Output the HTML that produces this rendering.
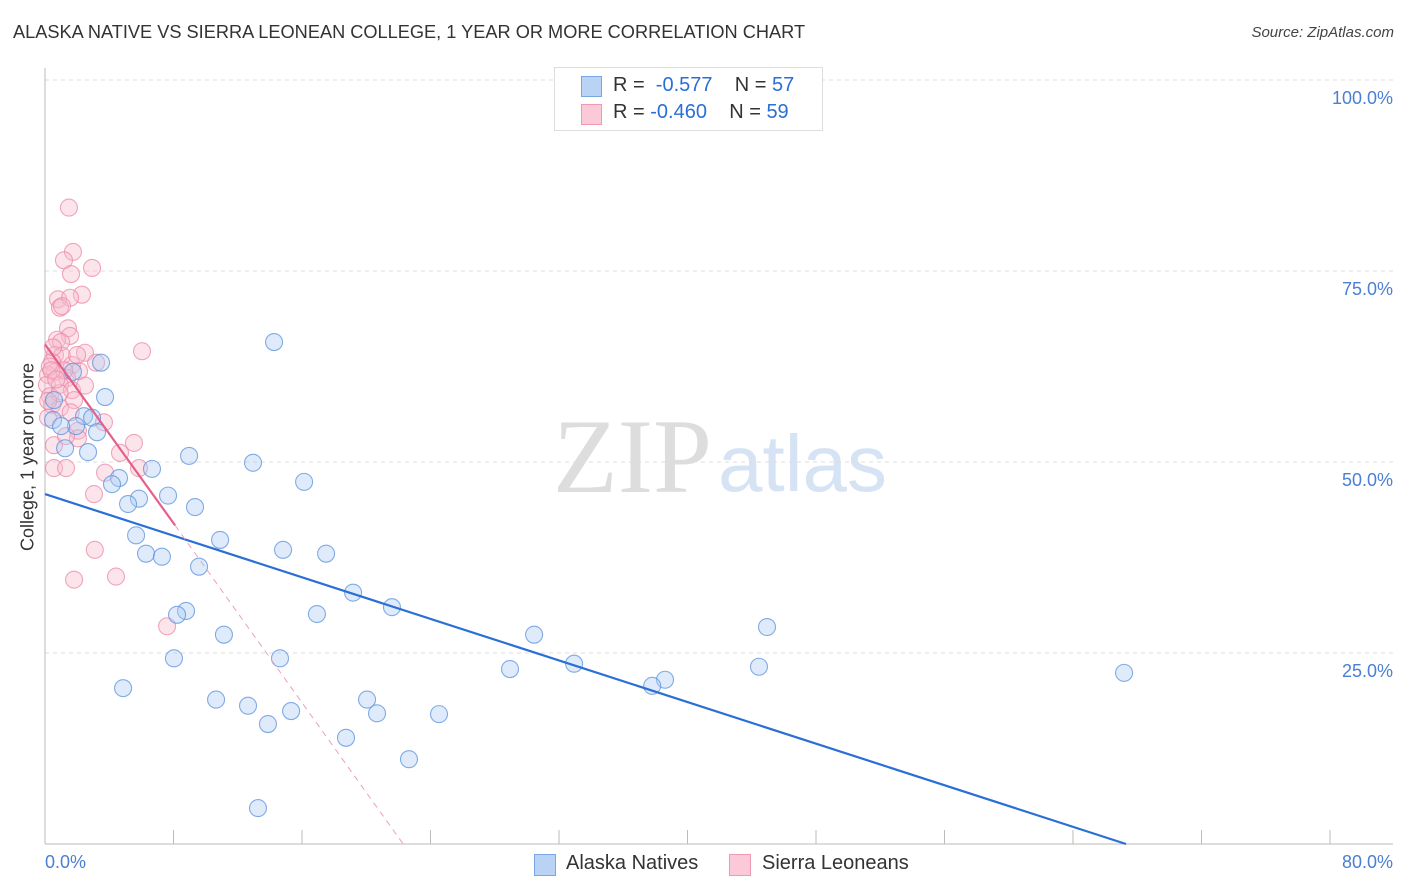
<!DOCTYPE html>
<html><head><meta charset="utf-8"><style>
body{margin:0;background:#fff;font-family:"Liberation Sans",sans-serif}
#wrap{position:relative;width:1406px;height:892px;overflow:hidden}
.t{position:absolute;white-space:nowrap}
</style></head><body>
<div id="wrap">
<div class="t" style="left:13px;top:22px;font-size:18.2px;color:#333">ALASKA NATIVE VS SIERRA LEONEAN COLLEGE, 1 YEAR OR MORE CORRELATION CHART</div>
<div class="t" style="right:12px;top:24px;font-size:15px;color:#444;font-style:italic">Source: ZipAtlas.com</div>
<svg id="svg" width="1406" height="892" style="position:absolute;left:0;top:0"></svg>
</div>
<script>
const xTicks=[0,8,16,24,32,40,48,56,64,72,80];
const yTicks=[25,50,75,100];
const yTickLabels=["25.0%","50.0%","75.0%","100.0%"];
const blueX=[14.26,3.49,1.74,3.74,0.56,0.5,2.43,2.93,1.93,1.0,3.24,1.25,2.68,8.97,12.95,6.66,4.61,4.17,16.13,5.85,5.17,7.66,9.34,5.67,10.9,14.82,17.5,6.29,7.28,9.59,19.18,21.6,8.78,8.22,16.93,11.14,30.45,44.95,8.03,14.63,28.95,32.94,44.45,67.18,38.6,37.8,4.86,10.65,12.64,20.05,15.32,20.67,24.53,13.88,18.74,22.66,13.26];
const blueY=[65.7,63.0,61.8,58.5,58.1,55.5,56.0,55.8,54.7,54.7,53.9,51.8,51.3,50.8,49.9,49.1,47.9,47.1,47.4,45.2,44.5,45.6,44.1,40.4,39.8,38.5,38.0,38.0,37.6,36.3,32.9,31.0,30.5,30.0,30.1,27.4,27.4,28.4,24.3,24.3,22.9,23.6,23.2,22.4,21.5,20.7,20.4,18.9,18.1,18.9,17.4,17.1,17.0,15.7,13.9,11.1,4.7];
const pinkX=[1.49,1.74,1.18,2.93,1.62,2.3,0.81,1.56,0.93,1.06,1.43,1.56,0.75,1.0,6.04,2.49,0.62,1.06,3.18,0.44,1.68,2.12,0.62,0.19,1.37,0.12,0.93,1.68,0.31,1.81,0.44,0.93,3.67,2.05,2.05,5.54,0.56,4.67,0.56,1.31,5.85,3.74,3.05,3.1,4.42,1.81,7.6,0.19,2.49,1.31,0.3,1.2,0.5,2.0,0.9,0.2,1.6,0.4,0.7];
const pinkY=[83.3,77.5,76.4,75.4,74.6,71.9,71.3,71.5,70.2,70.4,67.5,66.5,66.0,65.7,64.5,64.3,64.0,63.9,63.0,63.1,62.7,61.9,61.8,61.4,61.0,60.1,60.1,59.4,58.6,58.1,57.5,57.1,55.2,54.1,53.1,52.5,52.2,51.2,49.2,49.2,49.2,48.6,45.8,38.5,35.0,34.6,28.5,55.8,60.0,53.4,62.5,62.0,65.0,64.0,59.0,58.0,56.5,62.0,60.8];
const blueTrend=[[0,45.8],[67.3,0]];
const pinkSolid=[[0,65.4],[8.1,41.7]];
const pinkDash=[[8.1,41.7],[22.3,0]];
const X=v=>45+v/80*1285, Y=v=>844-v/100*764;
const svg=document.getElementById('svg');const NS='http://www.w3.org/2000/svg';
function mk(t,a,p){const e=document.createElementNS(NS,t);for(const k in a)e.setAttribute(k,a[k]);(p||svg).appendChild(e);return e;}
let w=mk('text',{x:553,y:492,'font-size':106,'font-family':'Liberation Serif',fill:'#ddd'});w.textContent='ZIP';


w=mk('text',{x:718,y:491,'font-size':80,'font-family':'Liberation Sans',fill:'#d5e3f5'});w.textContent='atlas';


yTicks.forEach((v,i)=>{let l=mk('line',{x1:45,x2:1393,y1:Y(v),y2:Y(v),stroke:'#ddd','stroke-dasharray':'4,4'});


let t=mk('text',{x:1393,y:Y(v)+24,'text-anchor':'end','font-size':18,fill:'#4a7fd4'});t.textContent=yTickLabels[i];

});
let ax=mk('line',{x1:45,x2:45,y1:68,y2:844,stroke:'#bbb'});


ax=mk('line',{x1:45,x2:1393,y1:844,y2:844,stroke:'#bbb'});


xTicks.forEach(v=>{let l=mk('line',{x1:X(v),x2:X(v),y1:830,y2:844,stroke:'#bbb'});

});
function dots(xs,ys,fill,stroke,name){xs.forEach((x,i)=>{let c=mk('circle',{cx:X(x),cy:Y(ys[i]),r:8.5,fill:fill,stroke:stroke,'stroke-width':1.1,'fill-opacity':0.4,'stroke-opacity':0.75});

});}
dots(pinkX,pinkY,'#f7bccd','#eb8aa8','sierra-leonean-point');
dots(blueX,blueY,'#b0cdf2','#5a92dc','alaska-native-point');
let l=mk('line',{x1:X(blueTrend[0][0]),y1:Y(blueTrend[0][1]),x2:X(blueTrend[1][0]),y2:Y(blueTrend[1][1]),stroke:'#2a6fd6','stroke-width':2.2});


l=mk('line',{x1:X(pinkSolid[0][0]),y1:Y(pinkSolid[0][1]),x2:X(pinkSolid[1][0]),y2:Y(pinkSolid[1][1]),stroke:'#e4608a','stroke-width':2.2});


l=mk('line',{x1:X(pinkDash[0][0]),y1:Y(pinkDash[0][1]),x2:X(pinkDash[1][0]),y2:Y(pinkDash[1][1]),stroke:'#eaa0b8','stroke-width':1,'stroke-dasharray':'6,5'});


</script>
<div class="t" style="left:28px;top:457px;font-size:18px;color:#333;transform:translate(-50%,-50%) rotate(-90deg)">College, 1 year or more</div>
<div class="t" style="left:45px;top:852px;font-size:18px;color:#4a7fd4">0.0%</div>
<div class="t" style="right:13px;top:852px;font-size:18px;color:#4a7fd4">80.0%</div>
<div style="position:absolute;left:554px;top:67px;width:267px;height:62px;border:1px solid #ddd;background:#fff;font-size:20px;color:#333">
 <div style="position:absolute;left:26px;top:8px;width:19px;height:19px;background:#b9d3f5;border:1px solid #7aa6e4"></div>
 <div class="t" style="left:58px;top:6px">R = &nbsp;<span style="color:#2a6fd6">-0.577</span>&nbsp;&nbsp;&nbsp; N = <span style="color:#2a6fd6">57</span></div>
 <div style="position:absolute;left:26px;top:36px;width:19px;height:19px;background:#fbc9d8;border:1px solid #ee9ab5"></div>
 <div class="t" style="left:58px;top:33px">R = <span style="color:#2a6fd6">-0.460</span>&nbsp;&nbsp;&nbsp; N = <span style="color:#2a6fd6">59</span></div>
</div>
<div style="position:absolute;left:534px;top:852px;font-size:20px;color:#333">
 <div style="position:absolute;left:0;top:2px;width:20px;height:20px;background:#b9d3f5;border:1px solid #7aa6e4"></div>
 <span class="t" style="left:32px;top:0">Alaska Natives</span></div>
<div style="position:absolute;left:729px;top:852px;font-size:20px;color:#333">
 <div style="position:absolute;left:0;top:2px;width:20px;height:20px;background:#fbc9d8;border:1px solid #ee9ab5"></div>
 <span class="t" style="left:33px;top:0">Sierra Leoneans</span></div>
</body></html>
